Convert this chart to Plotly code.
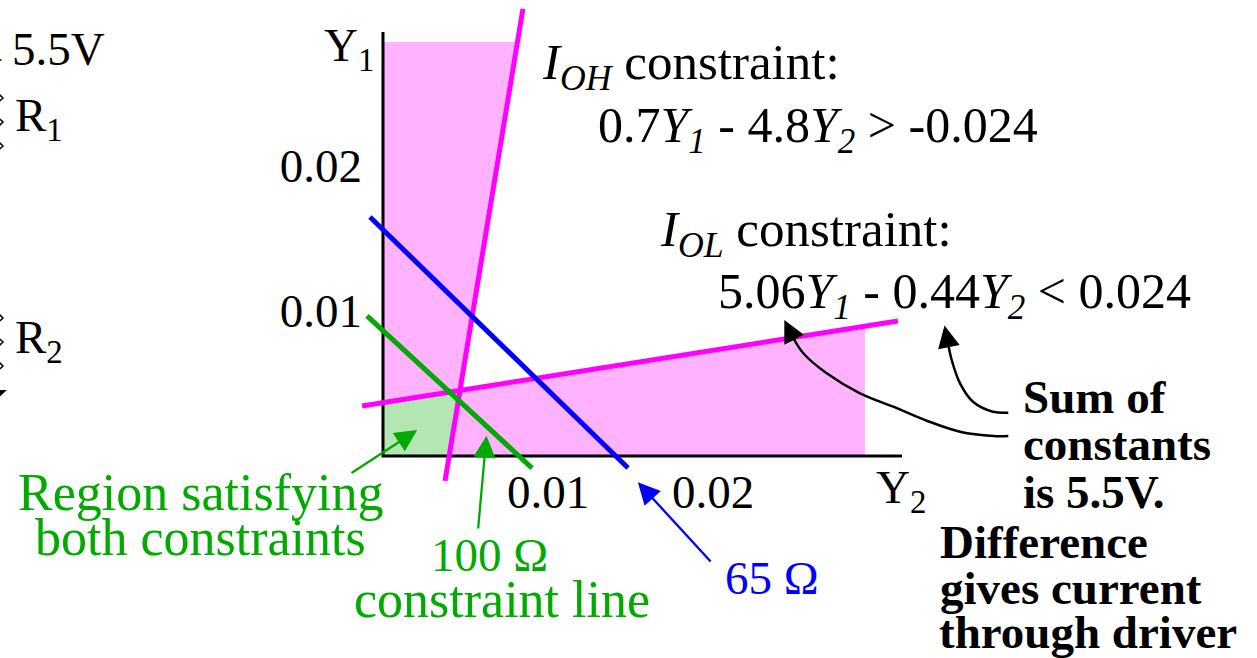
import plotly.graph_objects as go

SERIF = "Liberation Serif, Times New Roman, serif"
W, H = 1257, 658

# ---- constraint lines in the (Y2, Y1) conductance plane -------------------
ioh_y2 = [0.00848, 0.00376]
ioh_y1 = [0.03083, -0.00172]
iol_y2 = [-0.00127, 0.03121]
iol_y1 = [0.00345, 0.00931]
line65_y2 = [-0.00079, 0.01485]
line65_y1 = [0.01648, -0.00083]
line100_y2 = [-0.00097, 0.00903]
line100_y1 = [0.00966, -0.00083]

# ---- shaded regions ---------------------------------------------------------
one_ok_y2 = [0, 0.00815, 0.00467, 0.02921, 0.02921, 0, 0]
one_ok_y1 = [0.02855, 0.02855, 0.00452, 0.00895, 0, 0, 0.02855]
both_ok_y2 = [0, 0, 0.00467, 0.00401, 0]
both_ok_y1 = [0, 0.00368, 0.00452, 0, 0]

# ---- axes -------------------------------------------------------------------
y1_axis_len = 0.02924
y2_axis_len = 0.03145
tick_vals = [0.01, 0.02]
tick_text = ["0.01", "0.02"]

# ---- callout curves from the note to the I_OL constants ---------------------
curve_a_y2 = [0.037897, 0.036970, 0.035758, 0.034970, 0.034467, 0.034212]
curve_a_y1 = [0.002986, 0.003055, 0.003745, 0.005014, 0.006621, 0.007966]
curve_b_y2 = [0.037897, 0.036988, 0.034970, 0.032952, 0.030927, 0.028909,
              0.026891, 0.025473, 0.024715]
curve_b_y1 = [0.001379, 0.001379, 0.001676, 0.002434, 0.003400, 0.004324,
              0.005703, 0.007083, 0.008469]

# arrow (tip, tail) pairs
green_arrow_a = dict(tip=(0.002364, 0.002000), tail=(-0.002000, -0.001241))
green_arrow_b = dict(tip=(0.006303, 0.001793), tail=(0.005758, -0.005103))
blue_arrow = dict(tip=(0.015212, -0.001517), tail=(0.019939, -0.007379))
curve_a_head = dict(tip=(0.033958, 0.009379), tail=(0.034273, 0.007655))
curve_b_head = dict(tip=(0.024164, 0.009724), tail=(0.024867, 0.008138))

# ---- edge of the divider schematic (supply lead, R1, R2, ground) ------------
lead_x = [-0.02400, -0.02312]
lead_y = [0.02731, 0.02731]
r1_x = [-0.02380, -0.02303, -0.02380, -0.02303, -0.02380, -0.02303, -0.02380]
r1_y = [0.02552, 0.02469, 0.02386, 0.02303, 0.02221, 0.02138, 0.02055]
r2_x = [-0.02380, -0.02303, -0.02380, -0.02303, -0.02380, -0.02303, -0.02380]
r2_y = [0.01034, 0.00952, 0.00869, 0.00786, 0.00703, 0.00621, 0.00538]
gnd_x = [-0.02330, -0.02280, -0.02330]
gnd_y = [0.00455, 0.00455, 0.00400]

# scale of the drawing: pixels per siemens on each axis
KX, KY = 16500.0, 14500.0
X0, Y0 = 383, 456  # where the origin sits on the canvas

MAGENTA = "#FF00FF"
PINK = "#FFB3FF"
GREEN = "#00AA00"
LIGHT_GREEN = "#B3E6B3"
BLUE = "#0000FF"

fig = go.Figure()


def poly(xs, ys, color):
    fig.add_trace(go.Scatter(x=xs, y=ys, mode="lines", fill="toself",
                             fillcolor=color, line=dict(width=0),
                             hoverinfo="skip", showlegend=False))


def seg(xs, ys, color, width, shape="linear"):
    fig.add_trace(go.Scatter(x=xs, y=ys, mode="lines",
                             line=dict(color=color, width=width, shape=shape),
                             hoverinfo="skip", showlegend=False))


poly(one_ok_y2, one_ok_y1, PINK)
poly(both_ok_y2, both_ok_y1, LIGHT_GREEN)
seg([0, 0, y2_axis_len], [y1_axis_len, 0, 0], "#000000", 3)
seg(iol_y2, iol_y1, MAGENTA, 5)
seg(ioh_y2, ioh_y1, MAGENTA, 5)
seg(line65_y2, line65_y1, BLUE, 5)
seg(line100_y2, line100_y1, GREEN, 5)
seg(curve_a_y2, curve_a_y1, "#000000", 2.5, "spline")
seg(curve_b_y2, curve_b_y1, "#000000", 2.5, "spline")

# schematic fragments on the left edge
seg(lead_x, lead_y, "#000000", 1.5)
seg(r1_x, r1_y, "#000000", 1.5)
seg(r2_x, r2_y, "#000000", 1.5)
poly(gnd_x, gnd_y, "#000000")

# carrier for the labelled Y1 / Y2 axes
fig.add_trace(go.Scatter(x=[0], y=[0], xaxis="x2", yaxis="y2", mode="markers",
                         marker=dict(opacity=0), hoverinfo="skip",
                         showlegend=False))

annotations = []


def arrow(a, color, width=2.3):
    annotations.append(dict(
        x=a["tip"][0], y=a["tip"][1], ax=a["tail"][0], ay=a["tail"][1],
        xref="x", yref="y", axref="x", ayref="y", text="", showarrow=True,
        arrowhead=2, arrowsize=4.4 / width, arrowwidth=width,
        arrowcolor=color, standoff=5.7))


arrow(green_arrow_a, GREEN)
arrow(green_arrow_b, GREEN)
arrow(blue_arrow, BLUE)
arrow(curve_a_head, "#000000", 2.5)
arrow(curve_b_head, "#000000", 2.5)


def label(text, xp, yp, color="#000000", size=47, anchor="left"):
    annotations.append(dict(
        text=text, x=xp / W, y=1 - yp / H, xref="paper", yref="paper",
        xanchor=anchor, yanchor="middle", showarrow=False,
        font=dict(family=SERIF, size=size, color=color)))


# circuit side
label("5.5V", 10, 49)
label("R<sub>1</sub>", 13, 119)
label("R<sub>2</sub>", 13, 340)

# axis names
label("Y<sub>1</sub>", 322, 48)
label("Y<sub>2</sub>", 874, 490)

# constraint equations
label("<i>I</i><sub><i>OH</i></sub> constraint:", 540, 66, size=51)
label("0.7<i>Y</i><sub><i>1</i></sub> - 4.8<i>Y</i><sub><i>2</i></sub> &gt; -0.024",
      596, 129, size=50)
label("<i>I</i><sub><i>OL</i></sub> constraint:", 658, 233, size=51)
label("5.06<i>Y</i><sub><i>1</i></sub> - 0.44<i>Y</i><sub><i>2</i></sub> &lt; 0.024",
      716, 295, size=50)

# region / line callouts
label("Region satisfying", 200, 492, GREEN, size=52, anchor="center")
label("both constraints", 200, 537, GREEN, size=52, anchor="center")
label("100 Ω", 489, 555, GREEN, anchor="center")
label("constraint line", 502, 599, GREEN, size=52, anchor="center")
label("65 Ω", 723, 578, BLUE)

# note
note_lines = [("Sum of", 1021, 397), ("constants", 1021, 444),
              ("is 5.5V.", 1021, 492), ("Difference", 938, 542),
              ("gives current", 938, 588), ("through driver", 937, 632)]
for txt, xp, yp in note_lines:
    label("<b>" + txt + "</b>", xp, yp)

fig.update_layout(
    width=W, height=H, margin=dict(l=0, r=0, t=0, b=0),
    paper_bgcolor="white", plot_bgcolor="rgba(0,0,0,0)",
    hovermode=False, showlegend=False,
    xaxis=dict(domain=[0, 1], range=[-X0 / KX, (W - X0) / KX],
               visible=False, fixedrange=True),
    yaxis=dict(domain=[0, 1], range=[-(H - Y0) / KY, Y0 / KY],
               visible=False, fixedrange=True),
    xaxis2=dict(domain=[X0 / W, 1], range=[0, (W - X0) / KX], anchor="y2",
                tickvals=tick_vals, ticktext=tick_text, ticks="",
                showgrid=False, zeroline=False, showline=False,
                ticklabelstandoff=4, fixedrange=True,
                tickfont=dict(family=SERIF, size=47, color="#000000")),
    yaxis2=dict(domain=[(H - Y0) / H, 1], range=[0, Y0 / KY], anchor="x2",
                tickvals=tick_vals, ticktext=tick_text, ticks="",
                showgrid=False, zeroline=False, showline=False,
                ticklabelstandoff=20, fixedrange=True,
                tickfont=dict(family=SERIF, size=47, color="#000000")),
    annotations=annotations,
)

fig.write_html("out.html")
